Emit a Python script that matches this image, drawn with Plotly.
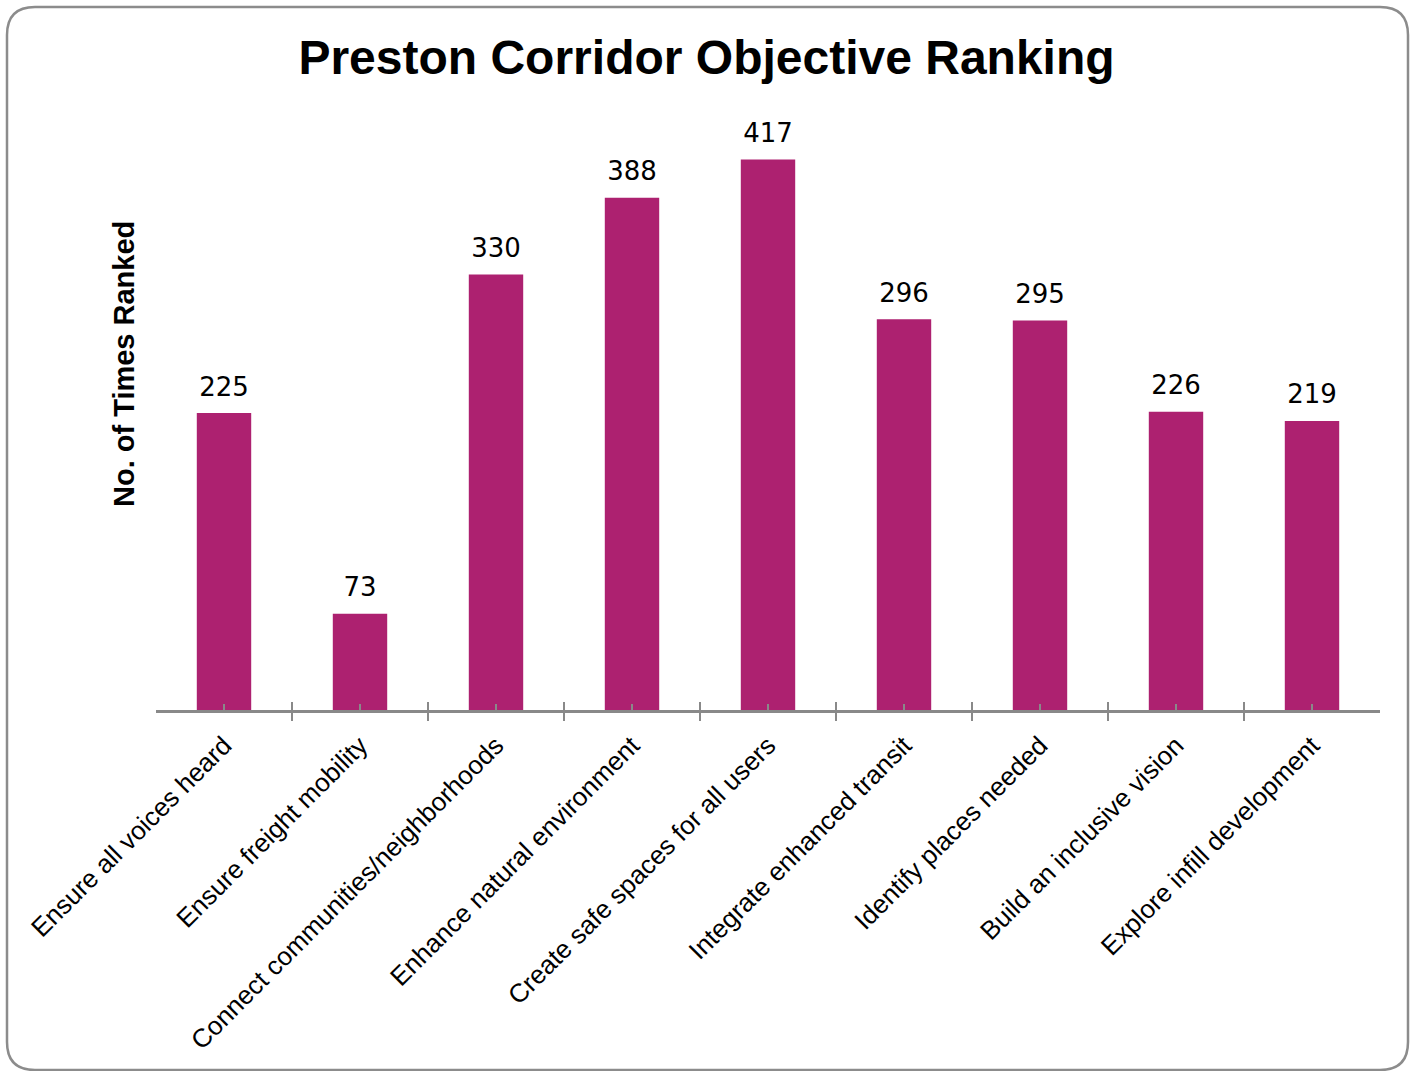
import plotly.graph_objects as go

categories = [
    "Ensure all voices heard",
    "Ensure freight mobility",
    "Connect communities/neighborhoods",
    "Enhance natural environment",
    "Create safe spaces for all users",
    "Integrate enhanced transit",
    "Identify places needed",
    "Build an inclusive vision",
    "Explore infill development",
]
values = [225, 73, 330, 388, 417, 296, 295, 226, 219]

W, H = 1413, 1071
L, R, T, B = 156, 33, 116, 361
PW = W - L - R
PH = H - T - B

BAR = "#AD2170"
GRAY = "#898989"

n = len(categories)
idx = list(range(n))
bounds = [i - 0.5 for i in range(n + 1)]


def px_x(px):
    return (px - L) / PW


def px_y(py):
    return (H - B - py) / PH


fig = go.Figure()
fig.add_trace(go.Bar(
    x=idx, y=values, marker=dict(color=BAR, line=dict(width=0)),
    customdata=categories, hovertemplate="%{customdata}: %{y}<extra></extra>",
    showlegend=False, xaxis="x", yaxis="y",
))
fig.add_trace(go.Scatter(
    x=idx, y=values, mode="markers+text", text=[str(v) for v in values],
    textposition="top center",
    textfont=dict(family="DejaVu Sans", size=26, color="#000000"),
    marker=dict(size=16, opacity=0),
    hoverinfo="skip", showlegend=False, xaxis="x2", yaxis="y", cliponaxis=False,
))

# y axis title
fig.add_annotation(
    xref="paper", yref="paper", x=px_x(124), y=px_y(364), text="<b>No. of Times Ranked</b>",
    textangle=-90, showarrow=False, xanchor="center", yanchor="middle",
    font=dict(family="Liberation Sans", size=29, color="#000000"),
)

# rounded border
x0, x1 = px_x(7), px_x(1408)
y0, y1 = px_y(7), px_y(1070)
rx = 28 / PW
ry = 28 / PH
path = (
    f"M {x0+rx},{y0} L {x1-rx},{y0} Q {x1},{y0} {x1},{y0-ry} "
    f"L {x1},{y1+ry} Q {x1},{y1} {x1-rx},{y1} "
    f"L {x0+rx},{y1} Q {x0},{y1} {x0},{y1+ry} "
    f"L {x0},{y0-ry} Q {x0},{y0} {x0+rx},{y0} Z"
)
fig.add_shape(type="path", xref="paper", yref="paper", path=path,
              line=dict(color="#8C8C8C", width=2.5), layer="below")

fig.update_layout(
    width=W, height=H,
    margin=dict(l=L, r=R, t=T, b=B, autoexpand=False),
    paper_bgcolor="white", plot_bgcolor="white",
    bargap=0.6,
    title=dict(text="<b>Preston Corridor Objective Ranking</b>", x=0.5, xref="container",
               xanchor="center", y=1 - 57 / H, yref="container", yanchor="middle",
               font=dict(family="Liberation Sans", size=48, color="#000000")),
    xaxis=dict(
        type="linear", range=[-0.5, n - 0.5],
        tickmode="array", tickvals=idx, ticktext=categories,
        showline=True, linecolor=GRAY, linewidth=3,
        ticks="inside", ticklen=6, tickwidth=2, tickcolor=GRAY,
        minor=dict(tickmode="array", tickvals=bounds, ticks="outside", ticklen=8,
                   tickwidth=2, tickcolor=GRAY, showgrid=False),
        tickangle=-45, showgrid=False, zeroline=False, ticklabelstandoff=7,
        tickfont=dict(family="Liberation Sans", size=26, color="#000000"),
    ),
    xaxis2=dict(
        overlaying="x", anchor="y", type="linear", range=[-0.5, n - 0.5],
        tickmode="array", tickvals=bounds, showticklabels=False,
        ticks="inside", ticklen=8, tickwidth=2, tickcolor=GRAY,
        showgrid=False, zeroline=False, showline=False,
    ),
    yaxis=dict(range=[0, 450], showticklabels=False, showgrid=False, zeroline=False,
               showline=False, ticks=""),
)

fig.write_html("out.html", config={"displayModeBar": False},
               post_script="document.body.style.margin='0';")
